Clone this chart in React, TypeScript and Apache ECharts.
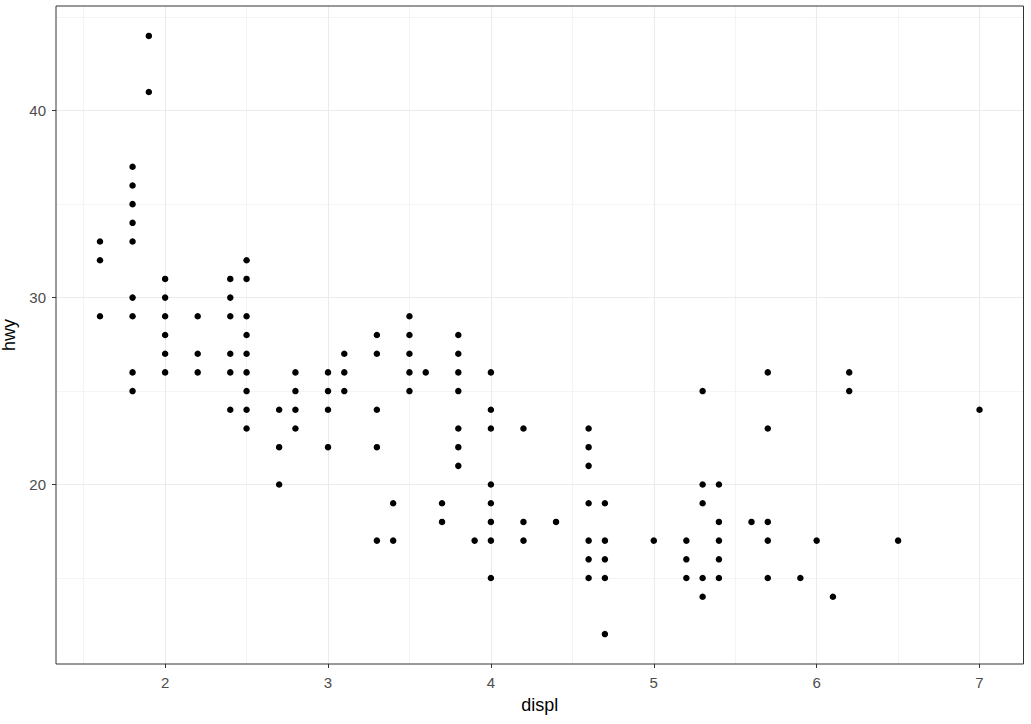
import React, { useEffect, useRef } from "react";
import * as echarts from "echarts";

// displ / hwy pairs (distinct points)
const displ = [
  1.6, 1.6, 1.6,
  1.8, 1.8, 1.8, 1.8, 1.8, 1.8, 1.8, 1.8, 1.8,
  1.9, 1.9,
  2.0, 2.0, 2.0, 2.0, 2.0, 2.0,
  2.2, 2.2, 2.2,
  2.4, 2.4, 2.4, 2.4, 2.4, 2.4,
  2.5, 2.5, 2.5, 2.5, 2.5, 2.5, 2.5, 2.5, 2.5,
  2.7, 2.7, 2.7,
  2.8, 2.8, 2.8, 2.8,
  3.0, 3.0, 3.0, 3.0,
  3.1, 3.1, 3.1,
  3.3, 3.3, 3.3, 3.3, 3.3,
  3.4, 3.4,
  3.5, 3.5, 3.5, 3.5, 3.5,
  3.6,
  3.7, 3.7,
  3.8, 3.8, 3.8, 3.8, 3.8, 3.8, 3.8,
  3.9,
  4.0, 4.0, 4.0, 4.0, 4.0, 4.0, 4.0, 4.0,
  4.2, 4.2, 4.2,
  4.4,
  4.6, 4.6, 4.6, 4.6, 4.6, 4.6, 4.6,
  4.7, 4.7, 4.7, 4.7, 4.7,
  5.0,
  5.2, 5.2, 5.2,
  5.3, 5.3, 5.3, 5.3, 5.3,
  5.4, 5.4, 5.4, 5.4, 5.4,
  5.6,
  5.7, 5.7, 5.7, 5.7, 5.7,
  5.9,
  6.0,
  6.1,
  6.2, 6.2,
  6.5,
  7.0,
];
const hwy = [
  33, 32, 29,
  37, 36, 35, 34, 33, 30, 29, 26, 25,
  44, 41,
  31, 30, 29, 28, 27, 26,
  29, 27, 26,
  31, 30, 29, 27, 26, 24,
  32, 31, 29, 28, 27, 26, 25, 24, 23,
  24, 22, 20,
  26, 25, 24, 23,
  26, 25, 24, 22,
  27, 26, 25,
  28, 27, 24, 22, 17,
  19, 17,
  29, 28, 27, 26, 25,
  26,
  19, 18,
  28, 27, 26, 25, 23, 22, 21,
  17,
  26, 24, 23, 20, 19, 18, 17, 15,
  23, 18, 17,
  18,
  23, 22, 21, 19, 17, 16, 15,
  19, 17, 16, 15, 12,
  17,
  17, 16, 15,
  25, 20, 19, 15, 14,
  20, 18, 17, 16, 15,
  18,
  26, 23, 18, 17, 15,
  15,
  17,
  14,
  26, 25,
  17,
  24,
];

const xMajor = [2, 3, 4, 5, 6, 7];
const xMinor = [1.5, 2.5, 3.5, 4.5, 5.5, 6.5];
const yMajor = [20, 30, 40];
const yMinor = [15, 25, 35, 45];
const xRange = [1.33, 7.27];
const yRange = [10.4, 45.6];

export default function App() {
  const ref = useRef<HTMLDivElement>(null);
  useEffect(() => {
    if (!ref.current) return;
    const chart = echarts.init(ref.current, undefined, { renderer: "svg" });
    const majorStyle = { color: "#EBEBEB", width: 1.1, type: "solid" as const };
    const minorStyle = { color: "#EFEFEF", width: 0.7, type: "solid" as const };
    const gridLines = [
      ...xMinor.map((v) => ({ xAxis: v, lineStyle: minorStyle })),
      ...yMinor.map((v) => ({ yAxis: v, lineStyle: minorStyle })),
      ...xMajor.map((v) => ({ xAxis: v, lineStyle: majorStyle })),
      ...yMajor.map((v) => ({ yAxis: v, lineStyle: majorStyle })),
    ];
    const textFont = "'Liberation Sans', Arial, sans-serif";
    chart.setOption({
      animation: false,
      backgroundColor: "#ffffff",
      grid: {
        left: 56,
        right: 7.5,
        top: 6,
        bottom: 60,
        containLabel: false,
        outerBoundsMode: "none",
        show: true,
        borderColor: "#333333",
        borderWidth: 1,
        backgroundColor: "transparent",
        z: 10,
      },
      xAxis: {
        type: "value",
        min: xRange[0],
        max: xRange[1],
        name: "displ",
        nameLocation: "middle",
        nameGap: 32,
        nameTextStyle: { color: "#000000", fontSize: 18, fontFamily: textFont },
        axisLine: { show: false },
        axisTick: { show: true, length: 4, customValues: xMajor, lineStyle: { color: "#333333" } },
        axisLabel: {
          customValues: xMajor,
          color: "#4D4D4D",
          fontSize: 15,
          margin: 11,
          fontFamily: textFont,
        },
        splitLine: { show: false },
      },
      yAxis: {
        type: "value",
        min: yRange[0],
        max: yRange[1],
        name: "hwy",
        nameLocation: "middle",
        nameGap: 31,
        nameRotate: 90,
        nameTextStyle: { color: "#000000", fontSize: 18, fontFamily: textFont },
        axisLine: { show: false },
        axisTick: { show: true, length: 4, customValues: yMajor, lineStyle: { color: "#333333" } },
        axisLabel: {
          customValues: yMajor,
          color: "#4D4D4D",
          fontSize: 15,
          margin: 10,
          fontFamily: textFont,
        },
        splitLine: { show: false },
      },
      series: [
        {
          type: "scatter",
          data: [],
          z: 1,
          silent: true,
          markLine: {
            silent: true,
            symbol: ["none", "none"],
            label: { show: false },
            emphasis: { disabled: true },
            data: gridLines,
          },
        },
        {
          type: "scatter",
          z: 5,
          symbol: "circle",
          symbolSize: 6.5,
          itemStyle: { color: "#000000", opacity: 1 },
          data: displ.map((d, i) => [d, hwy[i]]),
        },
      ],
    });
    return () => chart.dispose();
  }, []);
  return (
    <div
      ref={ref}
      style={{ position: "fixed", left: 0, top: 0, width: 1031, height: 724 }}
    />
  );
}
